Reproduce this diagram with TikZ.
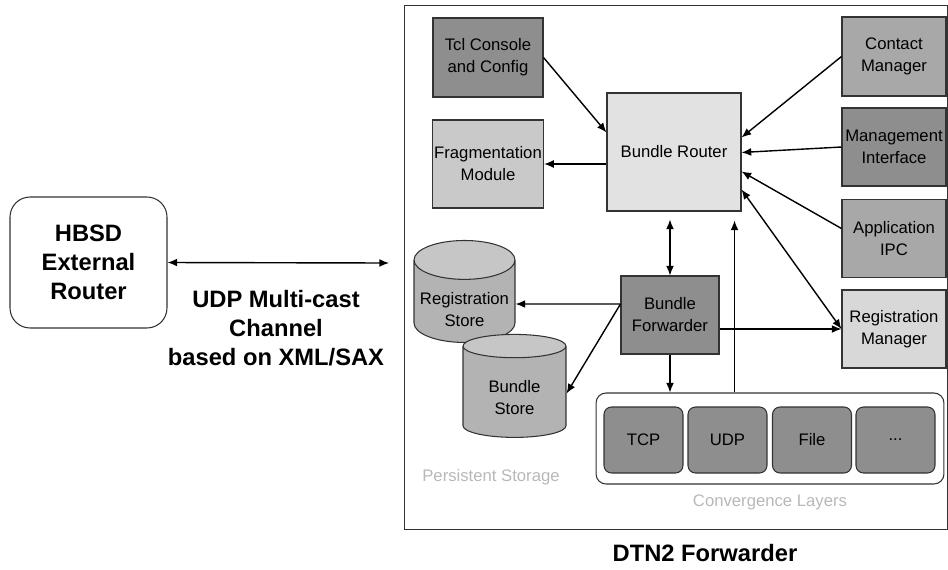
\documentclass[tikz,border=0pt]{standalone}
\usepackage{fontspec}
\setmainfont{Liberation Sans}
\usetikzlibrary{positioning, arrows.meta, shapes.geometric}
\definecolor{dtndark}{HTML}{8E8E8E}
\definecolor{dtnmid}{HTML}{A8A8A8}
\definecolor{dtnlight}{HTML}{C9C9C9}
\definecolor{dtnpale}{HTML}{E2E2E2}
\definecolor{dtnreg}{HTML}{D8D8D8}
\definecolor{dtnstore}{HTML}{B3B3B3}
\definecolor{dtnstoretop}{HTML}{C6C6C6}
\definecolor{dtnfade}{HTML}{B8B8B8}
\definecolor{boxline}{HTML}{333333}

\begin{document}
\begin{tikzpicture}[x=0.02cm, y=-0.02cm,
        box/.style={rectangle, draw=boxline, line width=0.6pt, minimum width=2.2cm, minimum height=1.56cm, inner sep=1pt, align=center, font=\fontsize{9.5}{12.5}\selectfont},
        layer/.style={box, rounded corners=0.15cm, fill=dtndark, minimum width=1.58cm, minimum height=1.32cm},
        store/.style={cylinder, shape border rotate=90, aspect=0.42, draw=boxline, line width=0.6pt, cylinder uses custom fill, cylinder body fill=dtnstore, cylinder end fill=dtnstoretop, inner sep=1pt, font=\fontsize{9.5}{12.5}\selectfont},
        link/.style={-{Latex[length=5.5pt,width=4.5pt]}, line width=0.8pt},
        twolink/.style={link, {Latex[length=5.5pt,width=4.5pt]}-{Latex[length=5.5pt,width=4.5pt]}},
        biglabel/.style={font=\fontsize{13.5}{16.5}\selectfont\bfseries, align=center},
        fadelabel/.style={text=dtnfade, font=\fontsize{9.5}{12.5}\selectfont}]
      \useasboundingbox (0,0) rectangle (948,569);
      % Forwarder frame
      \node[draw=boxline, line width=0.6pt, minimum width=10.87cm, minimum height=10.5cm] (frame) at (675.75,267.5) {};
      \node[biglabel] (dtn) at (705,553) {DTN2 Forwarder};

      % Left column
      \node[box, fill=dtndark, minimum height=1.58cm] (tcl) at (488,57.5) {Tcl Console\\and Config};
      \node[box, fill=dtnlight, minimum height=1.76cm] (frag) at (488,164) {Fragmentation\\Module};
      \node[store, minimum width=2.02cm, minimum height=2.04cm] (regst) at (464.5,304) {\raisebox{-0.22cm}[0pt][0pt]{\begin{tabular}{@{}c@{}}Registration\\Store\end{tabular}}};
      \node[store, minimum width=2.06cm, minimum height=2.06cm] (bst) at (514.5,393.5) {\raisebox{-0.2cm}[0pt][0pt]{\begin{tabular}{@{}c@{}}Bundle\\Store\end{tabular}}};
      \node[fadelabel] (persist) at (491,477) {Persistent Storage};

      % Core
      \node[box, fill=dtnpale, minimum width=2.68cm, minimum height=2.36cm] (br) at (674,152) {Bundle Router};
      \node[box, fill=dtndark, minimum width=1.96cm] (bf) at (670,315) {Bundle\\Forwarder};

      % Right column
      \node[box, fill=dtnmid, minimum width=2.08cm, minimum height=1.58cm] (contact) at (894,56.5) {Contact\\Manager};
      \node[box, fill=dtndark, minimum width=2.08cm] (mgmt) at (894,147) {Management\\Interface};
      \node[box, fill=dtnmid, minimum width=2.08cm] (app) at (894,238.5) {Application\\IPC};
      \node[box, fill=dtnreg, minimum width=2.08cm] (regmgr) at (894,329) {Registration\\Manager};

      % Convergence layers
      \node[draw=boxline, line width=0.6pt, rounded corners=0.2cm, minimum width=6.96cm, minimum height=1.82cm] (conv) at (770,438.5) {};
      \node[layer] (tcp) at (643.5,440) {TCP};
      \node[layer] (udp) at (727.5,440) {UDP};
      \node[layer] (file) at (812,440) {File};
      \node[layer] (more) at (895.5,440) {...};
      \node[fadelabel] (convlbl) at (770,502) {Convergence Layers};

      % Links
      \draw[link] (tcl.east) -- ([yshift=-0.8cm]br.north west);
      \draw[link] (br.west |- frag.east) -- (frag.east);
      \draw[link] (contact.west) -- ([yshift=-0.9cm]br.north east);
      \draw[link] (mgmt.west) -- ([yshift=-1.2cm]br.north east);
      \draw[link] ([yshift=0.2cm]app.west) -- ([yshift=-1.58cm]br.north east);
      \draw[twolink] ([yshift=-1.94cm]br.north east) -- (regmgr.west);
      \draw[twolink] (bf.north) -- ([yshift=-0.16cm]br.south -| bf.north);
      \draw[link] (bf.south) -- (conv.north -| bf.south);
      \draw[link] ([xshift=-0.14cm]conv.north -| br.south east) -- ([xshift=-0.14cm,yshift=-0.18cm]br.south east);
      \draw[link] (bf.east |- regmgr.west) -- (regmgr.west);
      \draw[link] ([yshift=0.22cm]bf.west) -- (regst.east);
      \draw[link] ([yshift=0.22cm]bf.west) -- (bst.east);

      % External router
      \node[draw=boxline, line width=0.6pt, rounded corners=0.4cm, minimum width=3.14cm, minimum height=2.62cm, biglabel] (hbsd) at (88.5,262.5) {HBSD\\External\\Router};
      \coordinate (chan) at (389,263);
      \draw[twolink] (hbsd.east) -- (chan);
      \node[biglabel] (udplbl) at (276,328) {UDP Multi-cast\\Channel\\based on XML/SAX};
    \end{tikzpicture}
\end{document}
